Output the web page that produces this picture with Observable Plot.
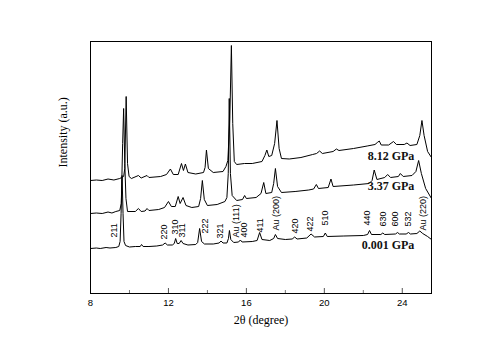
<!DOCTYPE html>
<html>
<head>
<meta charset="utf-8">
<script src="https://cdn.jsdelivr.net/npm/d3@7"></script>
<script src="https://cdn.jsdelivr.net/npm/@observablehq/plot@0.6"></script>
<style>
  html, body { margin: 0; padding: 0; background: #fff; }
  #chart { width: 500px; height: 351px; }
</style>
</head>
<body>
<div id="chart"></div>
<script>
// XRD patterns: [2θ (degree), intensity (a.u., offset)]
const spec001 = [
  [8.0,45],[8.3,45.5],[8.5,45],[8.8,46],[9.0,45.5],[9.3,46],[9.45,47],[9.52,52],[9.57,80],[9.62,118],[9.67,80],[9.72,52],[9.8,48],
  [10.0,46.5],[10.3,47],[10.55,47],[10.62,49],[10.7,47],[11.0,47],[11.4,47.5],[11.7,48.5],[11.83,50.5],[11.95,48.5],[12.2,48.5],
  [12.3,50],[12.37,55],[12.45,50],[12.55,50],[12.65,53],[12.75,50],[13.0,48.5],[13.4,49],[13.5,51],[13.6,65],[13.7,52],[13.85,49.5],
  [14.3,49.5],[14.6,50.5],[14.7,52.5],[14.8,50.5],[15.0,50.5],[15.08,55],[15.13,63],[15.2,54],[15.35,51],[15.6,51.5],[15.69,53.5],
  [15.78,51.5],[16.3,52],[16.55,53],[16.68,61],[16.8,54],[17.2,53],[17.4,55],[17.49,59],[17.6,55],[18.0,54],[18.35,54.5],[18.48,56.5],
  [18.6,54.5],[19.1,55.5],[19.32,59.5],[19.5,56.5],[19.95,57],[20.05,60.5],[20.15,57],[21.0,57.5],[22.0,58],[22.22,59],[22.32,63],
  [22.42,59],[22.9,59],[23.0,60.5],[23.1,59],[23.65,59.5],[23.76,61],[23.85,59.5],[24.2,59.5],[24.32,61],[24.42,59.5],[24.75,60],
  [24.9,62.5],[25.05,60],[25.3,57],[25.5,54]
];
const spec337 = [
  [8.0,80],[8.3,80.5],[8.6,80],[8.9,81.5],[9.1,80.5],[9.3,82],[9.5,83],[9.58,90],[9.65,150],[9.7,185],[9.76,130],[9.82,95],[9.9,82],
  [10.3,82],[10.46,85],[10.6,82],[10.8,82.5],[10.9,85],[11.0,83],[11.5,84],[11.8,86],[12.0,92],[12.15,87],[12.35,87],[12.5,97],
  [12.6,90],[12.75,96],[12.9,88],[13.2,86],[13.55,87],[13.65,95],[13.74,113],[13.84,94],[14.0,88],[14.5,89],[14.9,92],[15.0,96],
  [15.07,120],[15.12,195],[15.18,120],[15.27,98],[15.5,93],[15.8,94],[15.91,98],[16.0,95],[16.5,96],[16.75,100],[16.89,111],
  [17.0,100],[17.3,101],[17.4,110],[17.49,125],[17.6,107],[17.8,101],[18.5,102],[19.2,103.5],[19.45,104.5],[19.59,109],[19.7,105],
  [20.2,106],[20.34,114.5],[20.45,107],[21.5,108.5],[22.3,110],[22.45,113],[22.56,123.5],[22.7,114],[23.1,116],[23.25,119],
  [23.4,116],[23.8,117],[23.9,120],[24.05,117],[24.5,118],[24.7,122],[24.84,133],[24.98,120],[25.2,105],[25.5,95]
];
const spec812 = [
  [8.0,113],[8.3,113.5],[8.6,113],[8.9,114.5],[9.2,113.5],[9.5,115],[9.7,117],[9.76,125],[9.83,197],[9.9,130],[9.98,117],[10.1,115],
  [10.46,118],[10.6,115.5],[10.9,118],[11.0,116],[11.6,117],[11.9,119],[12.1,124.5],[12.25,119],[12.5,119],[12.67,130],[12.77,123],
  [12.87,129.5],[13.0,121],[13.4,119.5],[13.8,121],[13.88,126],[13.95,143.5],[14.05,125],[14.3,121],[14.8,122],[14.95,127],
  [15.05,133],[15.15,175],[15.23,248],[15.3,170],[15.38,132],[15.5,129],[15.9,130],[16.3,130],[16.8,132],[16.95,138],[17.05,143.5],
  [17.15,137],[17.3,138],[17.45,150],[17.57,173],[17.68,145],[17.8,135],[18.2,134.5],[18.8,136],[19.4,139],[19.6,140],[19.76,142.5],
  [19.9,140],[20.45,142],[20.62,144.5],[20.75,143],[21.5,145],[22.2,147.5],[22.6,149],[22.72,151],[22.82,152.5],[22.92,148.5],
  [23.3,148.5],[23.55,152],[23.7,149],[24.1,149],[24.24,150.5],[24.4,148],[24.75,149],[24.9,158],[25.01,173],[25.12,158],
  [25.3,142],[25.5,136]
];

// Peak (hkl) labels of the 0.001 GPa pattern
const peakNames = ["211","220","310","311","222","321","Au (111)","400","411","Au (200)","420","422","510","440","630","600","532","Au (220)"];
const peakX =     [9.19, 11.79, 12.32, 12.72, 13.86, 14.67, 15.46, 15.86, 16.72, 17.54, 18.48, 19.28, 20.05, 22.22, 23.01, 23.64, 24.32, 25.09];
const peakY =     [56,   54,    59,    56,    60,    55,    56,    56,    61,    63,    60,    62,    68,    68,    67,    67,    67,    63];

// Pressure labels
const pressures = ["8.12 GPa", "3.37 GPa", "0.001 GPa"];
const pressureX = [24.62, 24.62, 24.62];
const pressureY = [137, 107, 48];

const majorTicks = [8, 12, 16, 20, 24];
const minorTicks = [10, 14, 18, 22];

const series = [spec001, spec337, spec812];
const lines = series.flatMap((s, i) => s.map(([t, v]) => ({t, v, s: i})));
const peaks = peakNames.map((n, i) => ({n, x: peakX[i], y: peakY[i]}));
const plabels = pressures.map((n, i) => ({n, x: pressureX[i], y: pressureY[i]}));

const serif = "'Liberation Serif', 'Times New Roman', serif";

const chart = Plot.plot({
  width: 500,
  height: 351,
  marginLeft: 90,
  marginRight: 69,
  marginTop: 41,
  marginBottom: 58,
  style: {fontFamily: "'Liberation Sans', Arial, sans-serif", background: "#fff", color: "#000"},
  x: {domain: [8, 25.5]},
  y: {domain: [0, 252], axis: null},
  marks: [
    Plot.axisX(majorTicks, {tickSize: 0, tickPadding: 6, fontSize: 9.5, color: "#000", label: null}),
    // inward tick marks (length in y units, 1 unit = 1 px)
    Plot.ruleX(majorTicks, {y1: 0, y2: 5, stroke: "#555", strokeWidth: 1}),
    Plot.ruleX(minorTicks, {y1: 0, y2: 3, stroke: "#777", strokeWidth: 1}),
    Plot.frame({stroke: "#000", strokeWidth: 1}),
    Plot.line(lines, {x: "t", y: "v", z: "s", stroke: "#000", strokeWidth: 1, curve: "linear"}),
    Plot.text(peaks, {x: "x", y: "y", text: "n", rotate: -90, textAnchor: "start", fontSize: 9, fill: "#000"}),
    Plot.text(plabels, {x: "x", y: "y", text: "n", textAnchor: "end", fontSize: 12, fontWeight: "bold", fontFamily: serif, fill: "#111"}),
    Plot.text(["2θ (degree)"], {frameAnchor: "bottom", dy: 30, fontSize: 12, fontFamily: serif, fill: "#000"}),
    Plot.text(["Intensity (a.u.)"], {frameAnchor: "left", dx: -27, rotate: -90, fontSize: 12, fontFamily: serif, fill: "#000"})
  ]
});
document.getElementById("chart").appendChild(chart);
</script>
</body>
</html>
